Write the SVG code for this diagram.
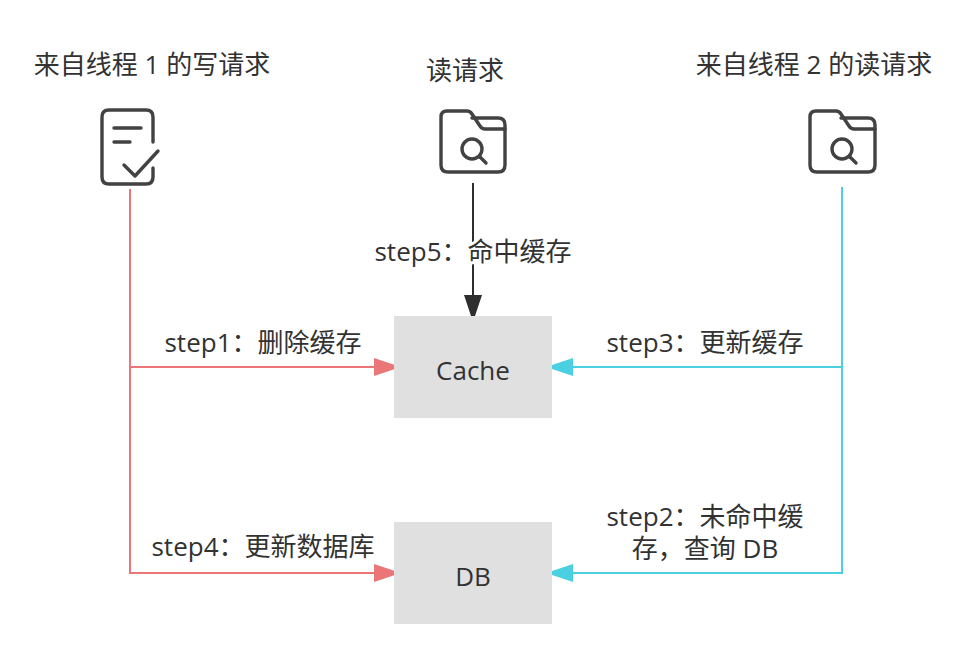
<svg xmlns="http://www.w3.org/2000/svg" width="958" height="653" viewBox="0 0 958 653">
<style>
text{font-family:"Open Sans","Noto Sans CJK SC","Noto Sans",sans-serif;font-size:26px;fill:#323232;text-anchor:middle}
.box{fill:#e0e0e0}
.ic{fill:none;stroke:#424242;stroke-width:3.4;stroke-linecap:round;stroke-linejoin:round}
.c{fill:none;stroke-width:2}
</style>
<rect width="958" height="653" fill="#fff"/>
<g id="connectors">
<path class="c" stroke="#ea7678" d="M130 189V573H376M130 367H376"/>
<path d="M374 358L401 367L374 376Z" fill="#ea7678"/>
<path d="M374 564L401 573L374 582Z" fill="#ea7678"/>
<path class="c" stroke="#4bd0e2" d="M842 187V573H572M842 367H572"/>
<path d="M573 358L546 367L573 376Z" fill="#4bd0e2"/>
<path d="M573 564L546 573L573 582Z" fill="#4bd0e2"/>
<path class="c" stroke="#2e2e2e" d="M473 183V296"/>
<path d="M464 295L473 322L482 295Z" fill="#2e2e2e"/>
</g>
<g id="label-write"><text x="152" y="74">来自线程 1 的写请求</text></g>
<g id="label-read"><text x="465" y="80">读请求</text></g>
<g id="label-read2"><text x="814" y="74">来自线程 2 的读请求</text></g>
<g id="icon-write">
<path class="ic" d="M153 142V117Q153 110 146 110H109Q102 110 102 117V177Q102 184 109 184H146Q153 184 153 177V168"/>
<path class="ic" d="M114 128H141M114 142H130M124 165L135 176L158 151"/>
</g>
<g id="icon-read">
<path class="ic" d="M447 111H467Q470 111 472 114L480 126Q482 129 485 129H505V165Q505 172 498 172H448Q441 172 441 165V117Q441 111 447 111Z"/>
<path class="ic" d="M472 118H498Q505 118 505 125V129"/>
<circle class="ic" cx="472" cy="149" r="10"/>
<path class="ic" d="M480 157L486 163"/>
</g>
<g id="icon-read2">
<path class="ic" d="M816 111H836Q839 111 841 114L849 126Q851 129 854 129H875V165Q875 172 868 172H817Q810 172 810 165V117Q810 111 816 111Z"/>
<path class="ic" d="M841 118H868Q875 118 875 125V129"/>
<circle class="ic" cx="842" cy="149" r="10"/>
<path class="ic" d="M850 157L856 163"/>
</g>
<g id="cache"><rect class="box" x="394" y="316" width="158" height="102"/><text x="473" y="380">Cache</text></g>
<g id="db"><rect class="box" x="394" y="522" width="158" height="102"/><text x="473" y="586">DB</text></g>
<g id="edge-labels">
<text x="473" y="261" style="paint-order:stroke;stroke:#fff;stroke-width:6px">step5：命中缓存</text>
<text x="263" y="352">step1：删除缓存</text>
<text x="705" y="352">step3：更新缓存</text>
<text x="263" y="556">step4：更新数据库</text>
<text x="705" y="526">step2：未命中缓</text>
<text x="705" y="558">存，查询 DB</text>
</g>
</svg>
